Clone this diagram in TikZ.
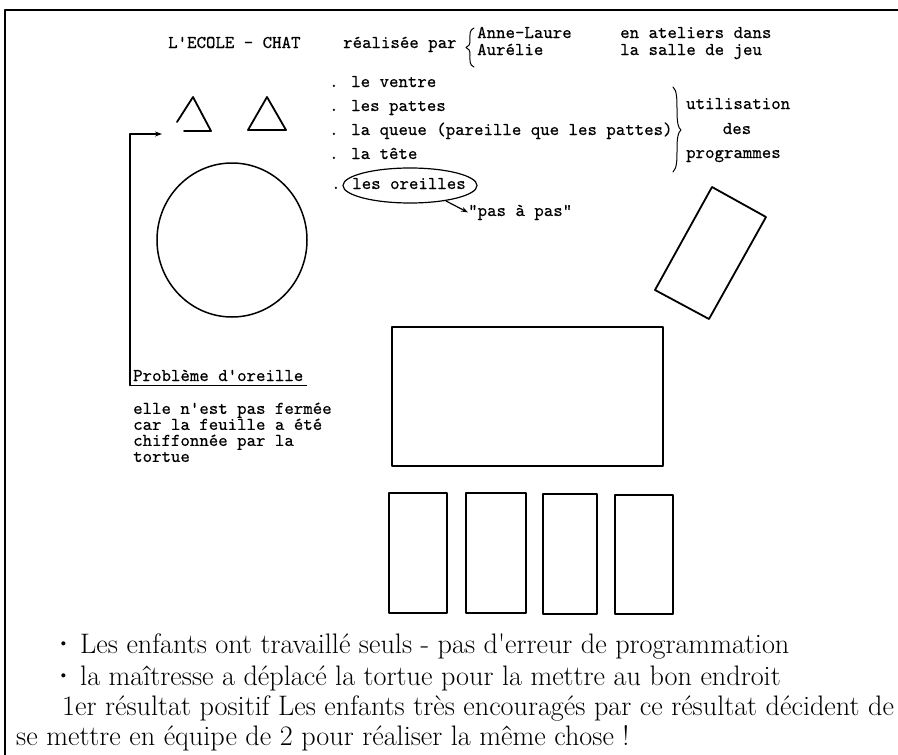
\documentclass[tikz,border=0pt]{standalone}
\usepackage{fontspec}
\newfontfamily\typewr{lmmono10-regular.otf}[FakeBold=0.45]
\usetikzlibrary{arrows.meta}
\begin{document}
\begin{tikzpicture}[x=1pt,y=-1pt, line cap=round, line join=round,
  tt/.style={font=\fontsize{18}{16}\selectfont\typewr, inner sep=0pt, anchor=base west},
  rm/.style={font=\fontsize{28.2}{28.2}\selectfont, inner sep=0pt, anchor=base west},
  shapeline/.style={line width=1.8pt},
  frameline/.style={line width=2.4pt},
  braceline/.style={line width=1pt},
  tip/.style={-{Stealth[length=7pt,width=5pt]}}]
\useasboundingbox (0,0) rectangle (898,755);
% frame
\draw[frameline] (5,756) -- (5,10) -- (898,10);
% header
\node[tt] (titre) at (168,48) {L'ECOLE - CHAT};
\node[tt] (realise) at (343,48) {réalisée par};
\draw[braceline] (474,28) .. controls (469,30) and (470,35) .. (470,40) .. controls (470,44) and (469,47) .. (466,47.5) .. controls (469,48) and (470,51) .. (470,55) .. controls (470,60) and (469,65) .. (474,67);
\node[tt] (anne) at (477,38) {Anne-Laure};
\node[tt] (aurelie) at (477,55) {Aurélie};
\node[tt] (ateliers) at (620,38) {en ateliers dans};
\node[tt] (salle) at (620,55) {la salle de jeu};
% list
\node[tt] (ventre) at (329,87) {. le ventre};
\node[tt] (pattes) at (329,111) {. les pattes};
\node[tt] (queue) at (329,135) {. la queue (pareille que les pattes)};
\node[tt] (tete) at (329,159) {. la tête};
\node[tt] (point) at (331,189) {.};
\node[tt, anchor=base] (oreilles) at (409,189) {les oreilles};
\coordinate (ovale) at (410,185.5);
\draw[line width=1.2pt] (ovale) ellipse [x radius=67, y radius=17.5];
\coordinate (queueovale) at (446,201);
\node[tt] (pas) at (468,216) {"pas à pas"};
\draw[line width=1.2pt, tip] (queueovale) -- (pas.west);
\draw[braceline] (673,87) .. controls (677,90) and (677,100) .. (677,110) .. controls (677,122) and (678,128) .. (681,130) .. controls (678,132) and (677,138) .. (677,150) .. controls (677,160) and (677,168) .. (673,172);
\node[tt] (utilisation) at (686,109) {utilisation};
\node[tt, anchor=base] (des) at (737,134) {des};
\node[tt] (programmes) at (686,158) {programmes};
% cat
\draw[shapeline] (177,122) -- (193,97) -- (211,131) -- (184,131);
\draw[shapeline] (248,130) -- (267,97) -- (286,130) -- cycle;
\draw[line width=1.5pt] (232,240) ellipse [x radius=75, y radius=77];
\coordinate (earpt) at (162,134);
\node[tt, inner xsep=3pt, inner ysep=0pt, text depth=4pt] (probleme) at (130,381) {Problème d'oreille};
\draw[line width=1.2pt] (probleme.south west) -- (probleme.south east);
\draw[line width=2pt, tip] (probleme.south west) |- (earpt);
\node[tt, anchor=north west, align=left] (explication) at (133,402.5)
  {elle n'est pas fermée\\car la feuille a été\\chiffonnée par la\\tortue};
% rectangles
\draw[shapeline] (712,187) -- (766,217) -- (709,319) -- (655,290) -- cycle;
\draw[shapeline] (392,327) rectangle (663,466);
\draw[shapeline] (389,493) rectangle (447,613);
\draw[shapeline] (466,493) rectangle (526,613);
\draw[shapeline] (543,494) rectangle (597,614);
\draw[shapeline] (615,495) rectangle (673,614);
% bottom text
\node[rm, anchor=base] (b1) at (63.5,653) {\bfseries ·};
\node[rm] (l1) at (80,653) {Les enfants ont travaillé seuls - pas d\textquotesingle erreur de programmation};
\node[rm, anchor=base] (b2) at (63.5,685) {\bfseries ·};
\node[rm] (l2) at (80,685) {la maîtresse a déplacé la tortue pour la mettre au bon endroit};
\node[rm] (l3) at (62,715) {1er résultat positif Les enfants très encouragés par ce résultat décident de};
\node[rm] (l4) at (16,745) {se mettre en équipe de 2 pour réaliser la même chose !};
\end{tikzpicture}
\end{document}
